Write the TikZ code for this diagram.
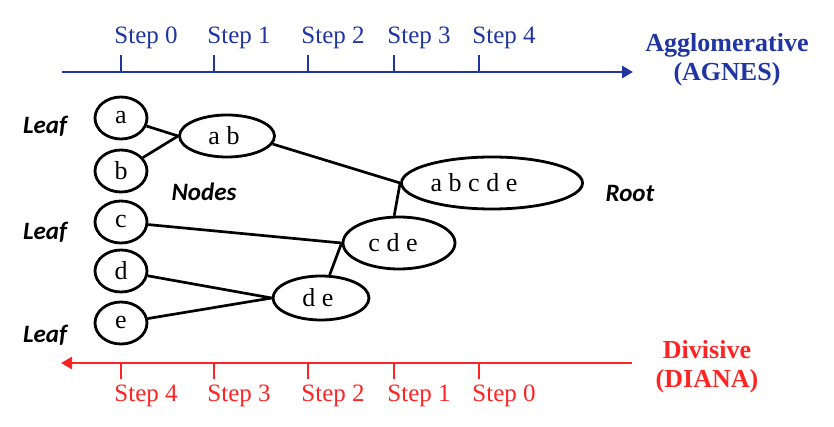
\documentclass[tikz,border=0pt]{standalone}
\usepackage{fontspec}
\setmainfont{Liberation Serif}
\newfontfamily\leaffont{Carlito}
\usetikzlibrary{shapes.geometric,arrows.meta}
\definecolor{agnesblue}{RGB}{32,52,162}
\definecolor{dianared}{RGB}{255,36,36}

\begin{document}
\begin{tikzpicture}[x=1pt,y=-1pt,
        cluster/.style={ellipse,draw=black,line width=2.8pt,inner sep=0pt,font=\fontsize{26}{28}\selectfont},
        link/.style={line width=2.7pt},
        stepmark/.style={line width=2.8pt},
        steplabel/.style={font=\fontsize{25}{27}\selectfont},
        methodlabel/.style={font=\fontsize{26}{29}\selectfont\bfseries,align=center},
        side/.style={font=\fontsize{25}{27}\selectfont\leaffont\bfseries\itshape}
    ]
    \useasboundingbox (0,0) rectangle (834,427);

    % agglomerative axis
    \coordinate (agnesstart) at (62,72);
    \coordinate (agnesend) at (633,72);
    \draw[agnesblue,stepmark,-{Triangle[length=11pt,width=12pt]}] (agnesstart) -- (agnesend);
    \draw[agnesblue,stepmark] (121,72) -- (121,55);
    \draw[agnesblue,stepmark] (214,72) -- (214,55);
    \draw[agnesblue,stepmark] (308,72) -- (308,55);
    \draw[agnesblue,stepmark] (394,72) -- (394,55);
    \draw[agnesblue,stepmark] (479,72) -- (479,55);
    \node[steplabel,agnesblue] (up0) at (146,38) {Step 0};
    \node[steplabel,agnesblue] (up1) at (239,38) {Step 1};
    \node[steplabel,agnesblue] (up2) at (333,38) {Step 2};
    \node[steplabel,agnesblue] (up3) at (419,38) {Step 3};
    \node[steplabel,agnesblue] (up4) at (504,38) {Step 4};
    \node[methodlabel,agnesblue] (agnes) at (727,60) {Agglomerative\\(AGNES)};

    % divisive axis
    \coordinate (dianastart) at (632,363);
    \coordinate (dianaend) at (61,363);
    \draw[dianared,stepmark,-{Triangle[length=11pt,width=12pt]}] (dianastart) -- (dianaend);
    \draw[dianared,stepmark] (121,363) -- (121,379);
    \draw[dianared,stepmark] (214,363) -- (214,379);
    \draw[dianared,stepmark] (308,363) -- (308,379);
    \draw[dianared,stepmark] (394,363) -- (394,379);
    \draw[dianared,stepmark] (479,363) -- (479,379);
    \node[steplabel,dianared] (down4) at (146,396) {Step 4};
    \node[steplabel,dianared] (down3) at (239,396) {Step 3};
    \node[steplabel,dianared] (down2) at (333,396) {Step 2};
    \node[steplabel,dianared] (down1) at (419,396) {Step 1};
    \node[steplabel,dianared] (down0) at (504,396) {Step 0};
    \node[methodlabel,dianared] (diana) at (707,367) {Divisive\\(DIANA)};

    % clusters
    \node[cluster,minimum width=52pt,minimum height=42pt] (a) at (121,118) {a};
    \node[cluster,minimum width=52pt,minimum height=42pt] (b) at (121,171) {b};
    \node[cluster,minimum width=52pt,minimum height=42pt] (c) at (121,222) {c};
    \node[cluster,minimum width=52pt,minimum height=42pt] (d) at (121,271) {d};
    \node[cluster,minimum width=52pt,minimum height=42pt] (e) at (121,323) {e};
    \node[cluster,minimum width=95pt,minimum height=42pt] (ab) at (227,136) {a b\hspace*{6pt}};
    \node[cluster,minimum width=96pt,minimum height=44pt] (de) at (321,298) {d e\hspace*{6pt}};
    \node[cluster,minimum width=112pt,minimum height=52pt] (cde) at (399,243) {c d e\hspace*{12pt}};
    \node[cluster,minimum width=181pt,minimum height=52pt] (abcde) at (492,183) {a b c d e\hspace*{36pt}};

    \node[side] (leaf1) at (45,126) {Leaf};
    \node[side] (leaf2) at (45,232) {Leaf};
    \node[side] (leaf3) at (45,335) {Leaf};
    \node[side] (inner) at (204,192) {Nodes};
    \node[side] (root) at (630,193) {Root};

    \draw[link] (a) -- (ab.west);
    \draw[link] (b) -- (ab.west);
    \draw[link] (d) -- (de.west);
    \draw[link] (e) -- (de.west);
    \draw[link] (c) -- (cde.west);
    \draw[link] (de) -- (cde.west);
    \draw[link] (ab.-10) -- (abcde.west);
    \draw[link] (cde.100) -- (abcde.west);
\end{tikzpicture}
\end{document}
